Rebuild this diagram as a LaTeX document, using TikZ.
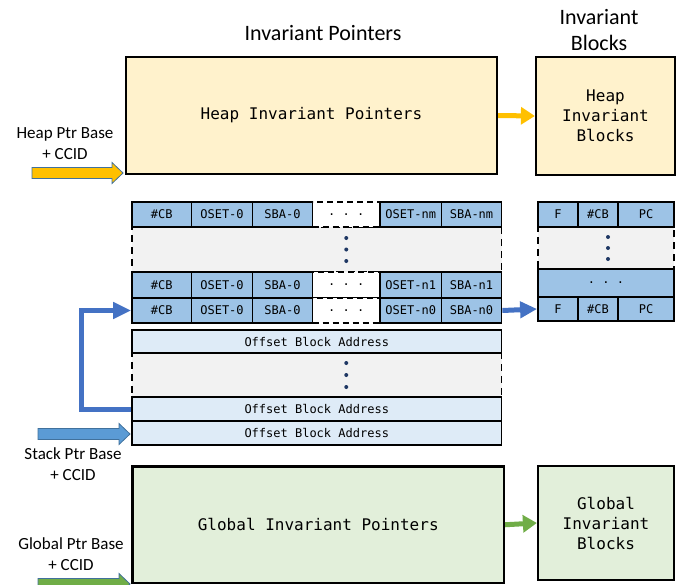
\documentclass[tikz,border=0pt]{standalone}
\usepackage{fontspec}
\setmainfont{Carlito}
\newfontfamily\monof{DejaVu Sans Mono}
\usetikzlibrary{arrows.meta}
\definecolor{heapfill}{HTML}{FFF2CC}
\definecolor{globfill}{HTML}{E2EFDA}
\definecolor{cellblue}{HTML}{9DC3E6}
\definecolor{offfill}{HTML}{DEEBF7}
\definecolor{grayfill}{HTML}{F2F2F2}
\definecolor{dotcol}{HTML}{1F3864}
\definecolor{arrY}{HTML}{FFC000}
\definecolor{arrG}{HTML}{70AD47}
\definecolor{arrB}{HTML}{4472C4}
\definecolor{blkB}{HTML}{5B9BD5}
\definecolor{outl}{HTML}{41719C}
\newcommand{\rectnode}[7]{%
  \pgfmathsetmacro\rectW{#5-#3}\pgfmathsetmacro\rectH{#6-#4}%
  \node[#2, minimum width=\rectW pt, minimum height=\rectH pt] (#1) at ({(#3+#5)/2},{(#4+#6)/2}) {#7};}
\newcommand{\blkarrow}[3]{%
  \draw[#1, line width=0.8pt, line join=miter] (#2) -- ++(-11,-10.5) -- ++(0,5) -- ++({-#3+11},0) -- ++(0,11) -- ++({#3-11},0) -- ++(0,5) -- cycle;}
\begin{document}
\begin{tikzpicture}[x=1pt,y=-1pt,
  bigbox/.style={draw=black, line width=2.2pt, inner sep=0pt, align=center, font=\monof\fontsize{16}{20}\selectfont},
  cellb/.style={draw=black, line width=1.8pt, fill=cellblue, inner sep=0pt, font=\monof\fontsize{12}{14}\selectfont},
  offc/.style={cellb, fill=offfill},
  dashc/.style={draw=black, line width=1.8pt, fill=white, dash pattern=on 6pt off 4pt, inner sep=0pt, font=\monof\fontsize{12}{14}\selectfont},
  grayreg/.style={draw=black, line width=1.8pt, fill=grayfill, dash pattern=on 7pt off 5pt, inner sep=0pt},
  lbl/.style={align=center, font=\fontsize{17}{21}\selectfont, inner sep=0pt},
  ttl/.style={align=center, font=\fontsize{22}{26}\selectfont, inner sep=0pt},
  dot/.style={circle, fill=dotcol, inner sep=0pt, minimum size=4pt},
  conn/.style={line width=5pt},
]
\useasboundingbox (0,0) rectangle (677,584);

% titles
\node[ttl] (tptr) at (323,33) {Invariant Pointers};
\node[ttl] (tblk) at (599,30) {Invariant\\Blocks};

% heap
\rectnode{heap}{bigbox, fill=heapfill}{126}{57}{497}{174}{Heap Invariant Pointers}
\rectnode{heapblk}{bigbox, fill=heapfill}{536}{57}{675}{175}{Heap\\Invariant\\Blocks}
\draw[conn, arrY, -{Triangle[length=14pt,width=17pt]}] (heap.east) -- (heapblk.west);
\node[lbl] (lheap) at (65,144) {Heap Ptr Base\\+ CCID};
\coordinate (heapin) at (123,173);
\blkarrow{fill=arrY, draw=outl}{heapin}{91}

% pointer table: gray regions first
\rectnode{g1}{grayreg}{132}{227}{501.5}{272}{}
\rectnode{g2}{grayreg}{132}{353}{501.5}{397}{}
% row 1
\rectnode{r1a}{cellb}{132}{202}{191.5}{227}{\#CB}
\rectnode{r1b}{cellb}{191.5}{202}{252.5}{227}{OSET-0}
\rectnode{r1c}{cellb}{252.5}{202}{312.5}{227}{SBA-0}
\rectnode{r1d}{dashc}{312.5}{202}{380}{227}{.\ .\ .}
\rectnode{r1e}{cellb}{380}{202}{441.5}{227}{OSET-nm}
\rectnode{r1f}{cellb}{441.5}{202}{501.5}{227}{SBA-nm}
% row n1
\rectnode{r2a}{cellb}{132}{272}{191.5}{298}{\#CB}
\rectnode{r2b}{cellb}{191.5}{272}{252.5}{298}{OSET-0}
\rectnode{r2c}{cellb}{252.5}{272}{312.5}{298}{SBA-0}
\rectnode{r2d}{dashc}{312.5}{272}{380}{298}{.\ .\ .}
\rectnode{r2e}{cellb}{380}{272}{441.5}{298}{OSET-n1}
\rectnode{r2f}{cellb}{441.5}{272}{501.5}{298}{SBA-n1}
% row n0
\rectnode{r3a}{cellb}{132}{298}{191.5}{323}{\#CB}
\rectnode{r3b}{cellb}{191.5}{298}{252.5}{323}{OSET-0}
\rectnode{r3c}{cellb}{252.5}{298}{312.5}{323}{SBA-0}
\rectnode{r3d}{dashc}{312.5}{298}{380}{323}{.\ .\ .}
\rectnode{r3e}{cellb}{380}{298}{441.5}{323}{OSET-n0}
\rectnode{r3f}{cellb}{441.5}{298}{501.5}{323}{SBA-n0}
% dots
\node[dot] (d1) at ([yshift=11.5pt]r1d |- g1.center) {};
\node[dot] (d2) at (r1d |- g1.center) {};
\node[dot] (d3) at ([yshift=-11.5pt]r1d |- g1.center) {};

% offset block addresses
\rectnode{oba1}{offc}{132}{330}{501.5}{353}{Offset Block Address}
\rectnode{oba2}{offc}{132}{397}{501.5}{421}{Offset Block Address}
\rectnode{oba3}{offc}{132}{421}{501.5}{445}{Offset Block Address}
\node[dot] (d4) at ([yshift=12pt]r1d |- g2.center) {};
\node[dot] (d5) at (r1d |- g2.center) {};
\node[dot] (d6) at ([yshift=-12pt]r1d |- g2.center) {};

% right block table
\rectnode{gq}{grayreg}{538}{227}{674}{269}{}
\rectnode{q1a}{cellb}{538}{202}{578}{227}{F}
\rectnode{q1b}{cellb}{578}{202}{618}{227}{\#CB}
\rectnode{q1c}{cellb}{618}{202}{674}{227}{PC}
\rectnode{q2}{cellb}{538}{269}{674}{297}{.\ .\ .}
\rectnode{q3a}{cellb}{538}{297}{578}{321}{F}
\rectnode{q3b}{cellb}{578}{297}{618}{321}{\#CB}
\rectnode{q3c}{cellb}{618}{297}{674}{321}{PC}
\node[dot] (d7) at ([xshift=2pt,yshift=11pt]gq.center) {};
\node[dot] (d8) at ([xshift=2pt]gq.center) {};
\node[dot] (d9) at ([xshift=2pt,yshift=-11pt]gq.center) {};

% blue connectors
\draw[conn, arrB, -{Triangle[length=17pt,width=16pt]}] (r3f.east) -- (q3a.west);
\draw[conn, arrB, line join=miter, -{Triangle[length=18pt,width=16pt]}] (oba2.west) -- ++(-50,0) |- (r3a.west);

% stack
\node[lbl] (lstack) at (73,464) {Stack Ptr Base\\+ CCID};
\coordinate (stackin) at (130,434);
\blkarrow{fill=blkB, draw=outl}{stackin}{92}

% global
\rectnode{glob}{bigbox, fill=globfill}{132.5}{466.5}{504}{583}{Global Invariant Pointers}
\rectnode{globblk}{bigbox, fill=globfill}{538}{466}{674}{580}{Global\\Invariant\\Blocks}
\draw[conn, arrG, -{Triangle[length=14pt,width=17pt]}] (glob.east) -- (globblk.west);
\node[lbl] (lglob) at (71,554) {Global Ptr Base\\+ CCID};
\coordinate (globin) at (130,584);
\blkarrow{fill=arrG, draw=outl}{globin}{92}
\end{tikzpicture}
\end{document}
